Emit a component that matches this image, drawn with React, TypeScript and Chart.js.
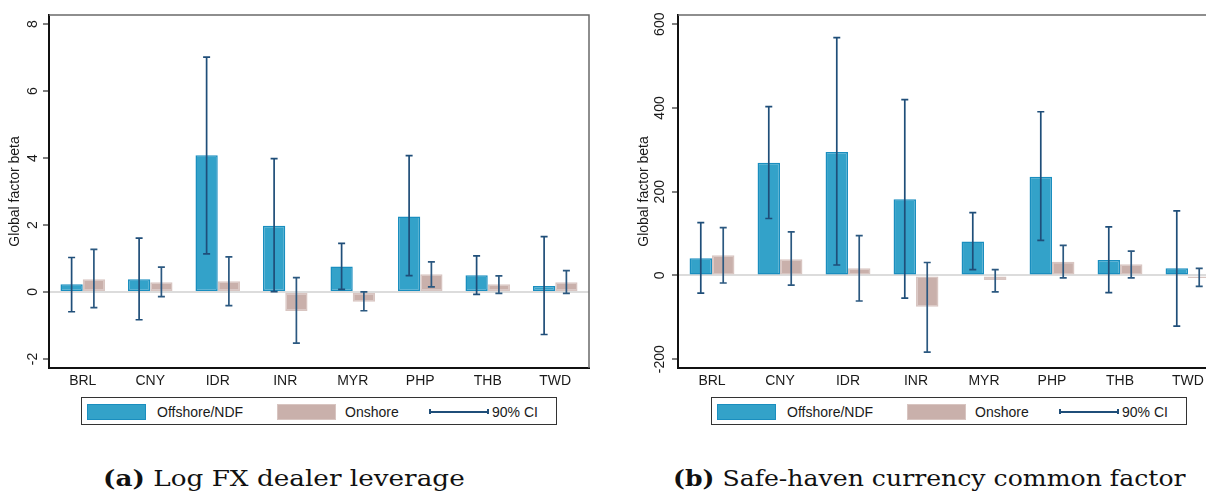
import React, { useEffect, useRef } from "react";
import { Chart, registerables } from "chart.js";
Chart.register(...registerables);

const categories = ["BRL", "CNY", "IDR", "INR", "MYR", "PHP", "THB", "TWD"];

// Panel (a): Log FX dealer leverage
const levOffshore = [0.23, 0.38, 4.08, 1.98, 0.76, 2.25, 0.5, 0.18];
const levOffshoreLo = [-0.59, -0.83, 1.14, 0.01, 0.08, 0.49, -0.07, -1.27];
const levOffshoreHi = [1.03, 1.61, 7.01, 3.98, 1.45, 4.07, 1.08, 1.65];
const levOnshore = [0.38, 0.29, 0.32, -0.57, -0.29, 0.53, 0.23, 0.29];
const levOnshoreLo = [-0.47, -0.14, -0.41, -1.53, -0.56, 0.15, -0.04, -0.04];
const levOnshoreHi = [1.27, 0.74, 1.05, 0.43, 0.0, 0.9, 0.48, 0.64];
const levTicks = [-2, 0, 2, 4, 6, 8];

// Panel (b): Safe-haven currency common factor
const shOffshore = [41, 269, 295, 182, 81, 236, 37, 17];
const shOffshoreLo = [-42, 136, 25, -54, 14, 84, -41, -121];
const shOffshoreHi = [126, 403, 568, 420, 150, 391, 116, 154];
const shOnshore = [48, 39, 17, -75, -11, 33, 27, -6];
const shOnshoreLo = [-18, -23, -61, -183, -39, -6, -6, -26];
const shOnshoreHi = [114, 104, 95, 31, 14, 72, 58, 17];
const shTicks = [-200, 0, 200, 400, 600];

const seriesNames = ["Offshore/NDF", "Onshore"];
const ciLabel = "90% CI";
const yTitle = "Global factor beta";

const BLUE = "#33a2c9";
const BLUE_BORDER = "#1a8ebf";
const PINK = "#c9b0ab";
const PINK_BORDER = "#d8c5c1";
const CI_COLOR = "#1f4e79";
const FONT = "'Liberation Sans', Arial, Helvetica, sans-serif";

const errorBarPlugin = {
  id: "errorBars",
  afterDatasetsDraw(chart: any) {
    const ctx = chart.ctx;
    const ys = chart.scales.y;
    chart.data.datasets.forEach((ds: any, di: number) => {
      const meta = chart.getDatasetMeta(di);
      ctx.save();
      ctx.strokeStyle = ds.ciColor;
      ctx.lineWidth = 1.7;
      meta.data.forEach((el: any, i: number) => {
        const x = el.x;
        const y1 = ys.getPixelForValue(ds.ciLo[i]);
        const y2 = ys.getPixelForValue(ds.ciHi[i]);
        ctx.beginPath();
        ctx.moveTo(x, y1);
        ctx.lineTo(x, y2);
        ctx.moveTo(x - 3.5, y1);
        ctx.lineTo(x + 3.5, y1);
        ctx.moveTo(x - 3.5, y2);
        ctx.lineTo(x + 3.5, y2);
        ctx.stroke();
      });
      ctx.restore();
    });
  },
};

const framePlugin = {
  id: "frame",
  afterDraw(chart: any) {
    const { ctx, chartArea } = chart;
    ctx.save();
    ctx.strokeStyle = "#6a6a6a";
    ctx.lineWidth = 1.5;
    ctx.beginPath();
    ctx.moveTo(chartArea.left, chartArea.top);
    ctx.lineTo(chartArea.right, chartArea.top);
    ctx.lineTo(chartArea.right, chartArea.bottom);
    ctx.stroke();
    ctx.restore();
  },
};

type PanelProps = {
  left: number;
  width: number;
  height: number;
  rightPad: number;
  off: number[];
  offLo: number[];
  offHi: number[];
  on: number[];
  onLo: number[];
  onHi: number[];
  min: number;
  max: number;
  ticks: number[];
  tickPad: number;
};

function Panel(p: PanelProps) {
  const ref = useRef<HTMLCanvasElement>(null);
  useEffect(() => {
    if (!ref.current) return;
    const chart = new Chart(ref.current, {
      type: "bar",
      data: {
        labels: categories,
        datasets: [
          {
            label: seriesNames[0],
            data: p.off,
            backgroundColor: BLUE,
            borderColor: BLUE_BORDER,
            borderWidth: 1.5,
            borderSkipped: false,
            categoryPercentage: 0.66,
            barPercentage: 1.0,
            ciLo: p.offLo,
            ciHi: p.offHi,
            ciColor: CI_COLOR,
          } as any,
          {
            label: seriesNames[1],
            data: p.on,
            backgroundColor: PINK,
            borderColor: PINK_BORDER,
            borderWidth: 1.5,
            borderSkipped: false,
            categoryPercentage: 0.66,
            barPercentage: 1.0,
            ciLo: p.onLo,
            ciHi: p.onHi,
            ciColor: "#2b5880",
          } as any,
        ],
      },
      options: {
        animation: false,
        responsive: false,
        devicePixelRatio: 1,
        layout: { padding: { left: 0, top: 15, right: p.rightPad, bottom: 0 } },
        plugins: { legend: { display: false }, tooltip: { enabled: false } },
        scales: {
          x: {
            type: "category",
            grid: { color: "rgba(0,0,0,0)", drawTicks: false },
            border: { display: true, color: "#111", width: 2 },
            ticks: { color: "#1a1a1a", font: { family: FONT, size: 14 }, padding: 5, autoSkip: false },
            afterFit: (s: any) => {
              s.height = p.height - 368;
            },
          },
          y: {
            type: "linear",
            min: p.min,
            max: p.max,
            afterBuildTicks: (s: any) => {
              s.ticks = p.ticks.map((v) => ({ value: v }));
            },
            afterFit: (s: any) => {
              s.width = 49;
            },
            grid: {
              color: (c: any) => (c.tick && c.tick.value === 0 ? "#dcdcdc" : "rgba(0,0,0,0)"),
              lineWidth: 2,
              tickColor: "#555",
              tickLength: 6,
              tickWidth: 1.5,
            },
            border: { display: true, color: "#111", width: 2 },
            ticks: {
              color: "#1a1a1a",
              font: { family: FONT, size: 14 },
              minRotation: 90,
              maxRotation: 90,
              crossAlign: "center",
              padding: p.tickPad,
              autoSkip: false,
            },
            title: {
              display: true,
              text: yTitle,
              color: "#1a1a1a",
              font: { family: FONT, size: 14 },
              padding: { top: 7, bottom: 0 },
            },
          },
        },
      } as any,
      plugins: [errorBarPlugin, framePlugin],
    });
    return () => chart.destroy();
  }, []);
  return (
    <canvas
      ref={ref}
      width={p.width}
      height={p.height}
      style={{ position: "absolute", left: p.left, top: 0, width: p.width, height: p.height }}
    />
  );
}

function Legend({ left }: { left: number }) {
  const text: React.CSSProperties = {
    position: "absolute",
    top: 0,
    height: 29,
    lineHeight: "28px",
    fontFamily: FONT,
    fontSize: 14,
    color: "#1a1a1a",
    whiteSpace: "nowrap",
  };
  return (
    <div
      style={{
        position: "absolute",
        left,
        top: 397,
        width: 476,
        height: 28,
        border: "1.5px solid #333",
        boxSizing: "border-box",
      }}
    >
      <div
        style={{
          position: "absolute",
          left: 5,
          top: 6,
          width: 59,
          height: 16,
          background: BLUE,
          border: `1px solid ${BLUE_BORDER}`,
          boxSizing: "border-box",
        }}
      />
      <div style={{ ...text, left: 75 }}>{seriesNames[0]}</div>
      <div
        style={{
          position: "absolute",
          left: 195,
          top: 6,
          width: 59,
          height: 16,
          background: PINK,
          border: `1px solid ${PINK_BORDER}`,
          boxSizing: "border-box",
        }}
      />
      <div style={{ ...text, left: 263 }}>{seriesNames[1]}</div>
      <div style={{ position: "absolute", left: 347, top: 13, width: 59, height: 1.5, background: CI_COLOR }} />
      <div style={{ position: "absolute", left: 347, top: 11, width: 1.5, height: 5, background: CI_COLOR }} />
      <div style={{ position: "absolute", left: 405, top: 11, width: 1.5, height: 5, background: CI_COLOR }} />
      <div style={{ ...text, left: 410 }}>{ciLabel}</div>
    </div>
  );
}

function Caption({ tag, text, center, target }: { tag: string; text: string; center: number; target: number }) {
  const ref = useRef<HTMLSpanElement>(null);
  useEffect(() => {
    const el = ref.current;
    if (!el) return;
    const w = el.offsetWidth;
    if (w > 0) {
      el.style.left = `${center - target / 2}px`;
      el.style.transform = `scaleX(${target / w})`;
    }
  }, []);
  return (
    <span
      ref={ref}
      style={{
        position: "absolute",
        left: center - target / 2,
        top: 463,
        fontFamily: "'DejaVu Serif', 'Liberation Serif', serif",
        fontSize: 23,
        lineHeight: "30px",
        color: "#111",
        whiteSpace: "nowrap",
        transformOrigin: "0 0",
      }}
    >
      <b>{tag}</b> {text}
    </span>
  );
}

export default function App() {
  return (
    <div
      style={{
        position: "fixed",
        left: 0,
        top: 0,
        width: 1206,
        height: 493,
        overflow: "hidden",
        background: "#fff",
      }}
    >
      <Panel
        left={0}
        width={600}
        height={395}
        rightPad={11}
        off={levOffshore}
        offLo={levOffshoreLo}
        offHi={levOffshoreHi}
        on={levOnshore}
        onLo={levOnshoreLo}
        onHi={levOnshoreHi}
        min={-2.27}
        max={8.27}
        ticks={levTicks}
        tickPad={4}
      />
      <Panel
        left={629}
        width={600}
        height={395}
        rightPad={7}
        off={shOffshore}
        offLo={shOffshoreLo}
        offHi={shOffshoreHi}
        on={shOnshore}
        onLo={shOnshoreLo}
        onHi={shOnshoreHi}
        min={-221}
        max={622}
        ticks={shTicks}
        tickPad={-2}
      />
      <Legend left={81} />
      <Legend left={711} />
      <Caption tag="(a)" text="Log FX dealer leverage" center={284} target={362} />
      <Caption tag="(b)" text="Safe-haven currency common factor" center={929} target={513} />
    </div>
  );
}
